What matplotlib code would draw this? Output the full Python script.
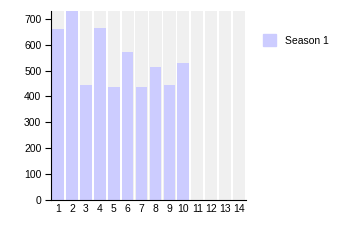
import matplotlib
matplotlib.use('Agg')
import matplotlib.pyplot as plt
import numpy as np
from matplotlib.patches import Patch

categorias = [str(i) for i in range(1, 15)]
season1 = [660, 740, 445, 665, 436, 570, 436, 513, 445, 531]
ymax = 730

plt.rcParams['font.family'] = ['Liberation Sans', 'DejaVu Sans']

x = np.arange(len(categorias))

fig = plt.figure(figsize=(3.45, 2.5), dpi=100)
ax = fig.add_axes([0.148, 0.2, 0.565, 0.756])

ax.bar(x, [ymax] * len(categorias), width=0.88, color='#f0f0f0', zorder=1)
ax.bar(x[:len(season1)], season1, width=0.84, color='#ccccff', zorder=2)

ax.set_xlim(-0.5, len(categorias) - 0.5)
ax.set_ylim(0, ymax)
ax.set_xticks(x)
ax.set_xticklabels(categorias)
ax.set_yticks(range(0, 701, 100))
ax.tick_params(axis='both', labelsize=7.5, length=4, pad=3)
ax.tick_params(axis='x', length=0, pad=3)
ax.spines['top'].set_visible(False)
ax.spines['right'].set_visible(False)

fig.legend(handles=[Patch(color='#ccccff', label='Season 1')],
           loc='upper left', bbox_to_anchor=(0.735, 0.9), frameon=False,
           fontsize=7.5, handlelength=1.3, handleheight=1.3, handletextpad=0.8)

fig.savefig('out.png', dpi=100)
